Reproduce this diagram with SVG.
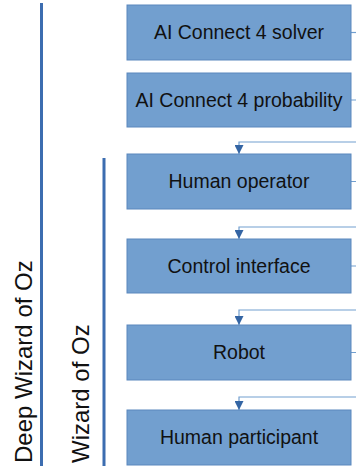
<svg xmlns="http://www.w3.org/2000/svg" width="356" height="466" viewBox="0 0 356 466">
<style>
.box{fill:#729fcf;stroke:#5b87bd;stroke-width:1}
.lbl{font-family:"Liberation Sans",Arial,sans-serif;font-size:19.5px;fill:#111;text-anchor:middle}
.side{font-family:"Liberation Sans",Arial,sans-serif;font-size:24px;fill:#111}
.bar{stroke:#3c6db0;stroke-width:3}
.conn{fill:none;stroke:#729fcf;stroke-width:1.2}
</style>
<defs>
<marker id="ah" markerWidth="9" markerHeight="9" refX="9" refY="4.5" orient="auto" markerUnits="userSpaceOnUse" viewBox="0 0 9 9">
<path d="M0,0 L9,4.5 L0,9 Z" fill="#3465a4"/>
</marker>
</defs>
<g id="deep-woz">
<line class="bar" x1="41.5" y1="3" x2="41.5" y2="466"/>
<text class="side" transform="translate(32,463) rotate(-90)">Deep Wizard of Oz</text>
</g>
<g id="woz">
<line class="bar" x1="104" y1="158" x2="104" y2="466"/>
<text class="side" transform="translate(89,463) rotate(-90)">Wizard of Oz</text>
</g>
<g id="connectors">
<path class="conn" d="M351,32.5 H362"/>
<path class="conn" d="M351,100 H362 V142 H239 V154" marker-end="url(#ah)"/>
<path class="conn" d="M351,181.5 H362 V227 H239 V239" marker-end="url(#ah)"/>
<path class="conn" d="M351,266 H362 V310 H239 V325" marker-end="url(#ah)"/>
<path class="conn" d="M351,352.5 H362 V397 H239 V410" marker-end="url(#ah)"/>
</g>
<g id="solver">
<rect class="box" x="127" y="5" width="224" height="55"/>
<text class="lbl" x="239" y="39">AI Connect 4 solver</text>
</g>
<g id="probability">
<rect class="box" x="127" y="73" width="224" height="54"/>
<text class="lbl" x="239" y="107">AI Connect 4 probability</text>
</g>
<g id="operator">
<rect class="box" x="127" y="154" width="224" height="55"/>
<text class="lbl" x="239" y="188">Human operator</text>
</g>
<g id="interface">
<rect class="box" x="127" y="239" width="224" height="54"/>
<text class="lbl" x="239" y="273">Control interface</text>
</g>
<g id="robot">
<rect class="box" x="127" y="325" width="224" height="55"/>
<text class="lbl" x="239" y="359">Robot</text>
</g>
<g id="participant">
<rect class="box" x="127" y="410" width="224" height="55"/>
<text class="lbl" x="239" y="444">Human participant</text>
</g>
</svg>
